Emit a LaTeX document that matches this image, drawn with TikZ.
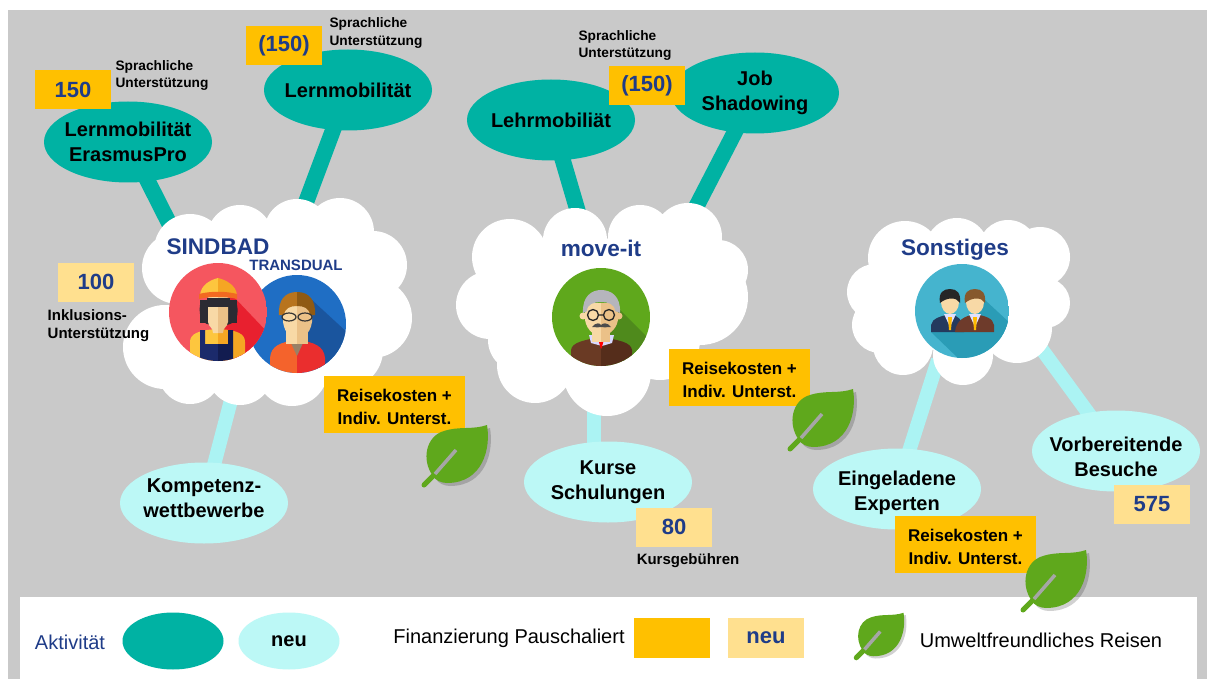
\documentclass[tikz,border=0pt]{standalone}
\usepackage{fontspec}
\setmainfont{Liberation Sans}
\usetikzlibrary{shapes.geometric}
\definecolor{bggray}{HTML}{C9C9C9}
\definecolor{tealc}{HTML}{00B2A3}
\definecolor{lightc}{HTML}{BCF8F6}
\definecolor{lineL}{HTML}{ABF3F3}
\definecolor{goldc}{HTML}{FFC000}
\definecolor{paleg}{HTML}{FFE08F}
\definecolor{navyt}{HTML}{1F3C88}
\definecolor{leafc}{HTML}{5FA81C}
\definecolor{skin}{HTML}{F8D9A6}
\definecolor{skind}{HTML}{EBC188}
\definecolor{wred}{HTML}{F5565F}
\definecolor{wredd}{HTML}{E8202F}
\definecolor{hatc}{HTML}{FDC63E}
\definecolor{hatd}{HTML}{F5A623}
\definecolor{brimc}{HTML}{F26A21}
\definecolor{darkh}{HTML}{2B2B33}
\definecolor{overall}{HTML}{1B2A6B}
\definecolor{overalld}{HTML}{121C50}
\definecolor{mblue}{HTML}{1F6EC4}
\definecolor{mblued}{HTML}{1A559E}
\definecolor{brownh}{HTML}{B8741E}
\definecolor{brownd}{HTML}{8F5A14}
\definecolor{vest}{HTML}{F4632C}
\definecolor{vestd}{HTML}{EA2E2E}
\definecolor{ogreen}{HTML}{5FA81C}
\definecolor{ogreend}{HTML}{4F8A1C}
\definecolor{ohair}{HTML}{B5B5BC}
\definecolor{obrown}{HTML}{6A3A24}
\definecolor{obrownd}{HTML}{552D1B}
\definecolor{sblue}{HTML}{45B4CE}
\definecolor{sblued}{HTML}{2A9CB6}
\definecolor{snavy}{HTML}{243A5E}
\definecolor{sbrown}{HTML}{6E3B2B}
\newcommand{\fs}[1]{\fontsize{#1}{#1}\selectfont}
\newcommand{\costtext}{\rule{0pt}{18pt}Reisekosten +\\[6pt]Indiv. Unterst.}
\pgfdeclarelayer{bg}\pgfdeclarelayer{conn}
\pgfsetlayers{bg,conn,main}
\tikzset{
  x=1pt,y=-1pt,
  act/.style={ellipse,fill=tealc,minimum width=168pt,minimum height=81pt,inner sep=-15pt,align=center,font=\bfseries\fs{20}},
  newact/.style={act,fill=lightc},
  conT/.style={draw=tealc,line width=16pt},
  conL/.style={draw=lineL,line width=14pt},
  gold/.style={fill=goldc,minimum width=76pt,minimum height=39pt,inner sep=0pt,font=\bfseries\fs{22},text=navyt},
  pale/.style={gold,fill=paleg},
  costbox/.style={fill=goldc,minimum width=141pt,minimum height=57pt,inner sep=0pt,align=center,font=\bfseries\fs{17}},
  small/.style={align=left,inner sep=0pt,font=\bfseries\fs{13.7}},
  small2/.style={small,font=\bfseries\fs{15}},
  title/.style={inner sep=0pt,text=navyt,font=\bfseries\fs{22.6}},
  legtext/.style={inner sep=0pt,font=\fs{20}},
  myleaf/.pic={
    \fill[black,opacity=.18] (15,-9) .. controls (3,-25) and (8,-49) .. (26,-54)
      .. controls (41,-59) and (55,-55) .. (69,-60) .. controls (73,-37) and (65,-2) .. (29,-2)
      .. controls (23,-2) and (17,-5) .. (15,-9) -- cycle;
    \fill[leafc] (12,-12) .. controls (0,-28) and (5,-52) .. (23,-57)
      .. controls (38,-62) and (52,-58) .. (66,-63) .. controls (70,-40) and (62,-5) .. (26,-5)
      .. controls (20,-5) and (14,-8) .. (12,-12) -- cycle;
    \draw[leafc,line width=5pt,line cap=round] (3,-3) -- (14,-14);
    \draw[gray!70,line width=3.5pt] (14,-14) -- (35,-38);
  }
}
\begin{document}
\begin{tikzpicture}
\useasboundingbox (0,0) rectangle (1207,679);
\begin{pgfonlayer}{bg}
  \fill[white] (0,0) rectangle (1207,679);
  \fill[bggray] (8,10) rectangle (1207,679);
  \fill[white] (20,597) rectangle (1197,679);
\end{pgfonlayer}

% clouds
\fill[white] (190,250) circle (36) (240,238) circle (33) (297,232) circle (33) (340,232) circle (34)
  (373,265) circle (34) (372,318) circle (40) (345,350) circle (38) (178,268) circle (36)
  (165,347) circle (42) (190,372) circle (32) (240,372) circle (33) (292,370) circle (36);
\fill[white] (190,250) -- (240,238) -- (297,232) -- (340,232) -- (373,265) -- (372,318) -- (345,350)
  -- (292,370) -- (240,372) -- (190,372) -- (165,347) -- (178,268) -- cycle;
\fill[white] (510,257) circle (38) (490,305) circle (34) (575,240) circle (32) (640,237) circle (32)
  (688,237) circle (34) (718,270) circle (30) (700,297) circle (48) (660,340) circle (40)
  (535,365) circle (38) (607,372) circle (44) (520,340) circle (32);
\fill[white] (510,257) -- (575,240) -- (640,237) -- (688,237) -- (718,270) -- (700,297) -- (660,340)
  -- (607,372) -- (535,365) -- (520,340) -- (490,305) -- cycle;
\fill[white] (905,258) circle (37) (957,250) circle (32) (1008,250) circle (30) (1040,257) circle (30)
  (1045,303) circle (25) (1017,328) circle (35) (963,355) circle (30) (903,345) circle (30)
  (875,292) circle (28) (880,325) circle (28);
\fill[white] (905,258) -- (957,250) -- (1008,250) -- (1040,257) -- (1045,303) -- (1017,328) -- (963,355)
  -- (903,345) -- (880,325) -- (875,292) -- cycle;
\coordinate (cloudA1) at (170,225);
\coordinate (cloudA2) at (305,205);
\coordinate (cloudA3) at (235,385);
\coordinate (cloudB1) at (578,212);
\coordinate (cloudB2) at (692,215);
\coordinate (cloudB3) at (594,400);
\coordinate (cloudC1) at (938,360);
\coordinate (cloudC2) at (1035,340);

% blue man icon
\begin{scope}
  \clip (297,324) circle (49);
  \fill[mblue] (248,275) rectangle (346,373);
  \fill[mblued] (312,300) -- (350,335) -- (350,380) -- (320,380) -- (300,330) -- cycle;
  \fill[vest] (270,372) -- (270,358) .. controls (271,346) and (280,342) .. (297,340) -- (297,373) -- cycle;
  \fill[vestd] (325,372) -- (325,358) .. controls (324,346) and (314,342) .. (297,340) -- (297,373) -- cycle;
  \fill[gray!60!brown] (291,343) -- (303,343) -- (297,356) -- cycle;
  \fill[skin] (286,330) rectangle (297,344);
  \fill[skind] (297,330) rectangle (308,344);
  \fill[skin] (283,305) rectangle (297,322) (283,322) .. controls (285,335) and (292,338) .. (297,338) -- (297,322) -- cycle;
  \fill[skind] (297,305) rectangle (312,322) (312,322) .. controls (310,335) and (302,338) .. (297,338) -- (297,322) -- cycle;
  \fill[brownh] (297,292) .. controls (285,292) and (278,300) .. (279,315) -- (284,315) .. controls (285,308) and (290,306) .. (297,306) -- cycle;
  \fill[brownd] (297,292) .. controls (309,292) and (316,300) .. (315,315) -- (310,315) .. controls (309,308) and (304,306) .. (297,306) -- cycle;
  \draw[black!80,line width=1.2pt] (289,317) ellipse (7 and 4) (305,317) ellipse (7 and 4);
\end{scope}

% worker icon
\begin{scope}
  \clip (218,312) circle (49);
  \fill[wred] (169,263) rectangle (267,361);
  \fill[wredd] (232,295) -- (270,335) -- (270,365) -- (230,365) -- (215,325) -- cycle;
  \fill[darkh] (200,300) rectangle (237,323);
  \fill[darkh] (200,305) .. controls (198,320) and (205,325) .. (212,325) -- (225,325) .. controls (232,325) and (240,320) .. (237,305) -- cycle;
  \fill[hatc] (190,360) -- (190,342) .. controls (190,334) and (198,330) .. (218,329) -- (218,362) -- cycle;
  \fill[hatd] (245,360) -- (245,342) .. controls (245,334) and (238,330) .. (218,329) -- (218,362) -- cycle;
  \fill[skin] (208,297) rectangle (218,322) (208,322) .. controls (209,328) and (213,327) .. (213,333) -- (218,333) -- (218,322) -- cycle;
  \fill[skind] (218,297) rectangle (228,322) (228,322) .. controls (227,328) and (223,327) .. (223,333) -- (218,333) -- (218,322) -- cycle;
  \fill[darkh] (207,298) rectangle (230,307);
  \fill[overall] (200,362) -- (200,330) -- (205,330) -- (205,344) -- (218,344) -- (218,362) -- cycle;
  \fill[overalld] (233,362) -- (233,330) -- (228,330) -- (228,344) -- (218,344) -- (218,362) -- cycle;
  \fill[hatc] (200,295) .. controls (201,285) and (210,280) .. (218,278) -- (218,295) -- cycle;
  \fill[hatd] (237,295) .. controls (236,285) and (226,280) .. (218,278) -- (218,295) -- cycle;
  \fill[brimc] (199,294) .. controls (210,291) and (226,291) .. (237,294) -- (237,299) .. controls (226,296) and (210,296) .. (199,299) -- cycle;
\end{scope}

% old man icon
\begin{scope}
  \clip (601,317) circle (49);
  \fill[ogreen] (552,268) rectangle (650,366);
  \fill[ogreend] (615,305) -- (655,345) -- (655,370) -- (625,370) -- (605,335) -- cycle;
  \fill[obrown] (571,367) -- (571,350) .. controls (572,342) and (585,340) .. (601,337) -- (601,367) -- cycle;
  \fill[obrownd] (632,367) -- (632,350) .. controls (631,342) and (618,340) .. (601,337) -- (601,367) -- cycle;
  \fill[blue!15!white] (589,335) -- (614,335) -- (612,343) -- (602,346) -- (591,343) -- cycle;
  \fill[red] (598,339) -- (604,339) -- (602,347) -- (601,349) -- cycle;
  \fill[skin] (592,328) rectangle (601,342);
  \fill[skind] (601,328) rectangle (610,342);
  \fill[skin] (585,303) rectangle (601,320) (585,320) .. controls (587,331) and (595,336) .. (601,336) -- (601,320) -- cycle;
  \fill[skind] (601,303) rectangle (618,320) (618,320) .. controls (616,331) and (607,336) .. (601,336) -- (601,320) -- cycle;
  \fill[skin] (583,316) circle (3.5);
  \fill[skind] (619,316) circle (3.5);
  \fill[ohair] (583,313) .. controls (582,296) and (592,290) .. (601,290) .. controls (611,290) and (621,296) .. (620,313) -- (615,311) .. controls (615,304) and (608,302) .. (601,302) .. controls (594,302) and (587,304) .. (587,311) -- cycle;
  \draw[black!85,line width=1.3pt] (593,315) circle (5.5) (609,315) circle (5.5) (598.5,315) -- (603.5,315);
  \fill[gray!60!black] (592,327) .. controls (596,322) and (600,323) .. (601,325) .. controls (603,323) and (607,322) .. (611,327) .. controls (606,327) and (603,328) .. (601,327) .. controls (599,328) and (596,327) .. (592,327) -- cycle;
\end{scope}

% two men icon
\begin{scope}
  \clip (962,311) circle (47);
  \fill[sblue] (915,264) rectangle (1009,358);
  \fill[sblued] (931,332) -- (994,332) -- (1010,320) -- (1010,360) -- (960,360) -- cycle;
  \fill[sblued] (985,300) -- (1012,325) -- (1000,340) -- (975,320) -- cycle;
  \fill[snavy] (931,332) -- (931,325) .. controls (932,318) and (942,316) .. (950,314) .. controls (958,316) and (962,318) .. (964,332) -- cycle;
  \fill[sbrown] (955,332) .. controls (956,320) and (965,316) .. (975,314) .. controls (985,316) and (993,318) .. (994,325) -- (994,332) -- cycle;
  \fill[blue!12!white] (944,314) -- (956,314) -- (950,327) -- cycle (969,314) -- (981,314) -- (975,327) -- cycle;
  \fill[goldc!90!orange] (948,317) -- (952,317) -- (951,330) -- (949,330) -- cycle (973,317) -- (977,317) -- (976,330) -- (974,330) -- cycle;
  \fill[skin] (950,302) ellipse (9 and 12) (975,302) ellipse (9 and 12);
  \fill[black!85] (940,303) .. controls (938,292) and (944,289) .. (950,289) .. controls (957,289) and (961,293) .. (960,303) .. controls (957,297) and (947,297) .. (940,303) -- cycle;
  \fill[brown!70!black] (965,303) .. controls (963,292) and (969,289) .. (975,289) .. controls (982,289) and (986,293) .. (985,303) .. controls (982,297) and (972,297) .. (965,303) -- cycle;
\end{scope}

% titles
\node[title] (tSind) at (218,247) {SINDBAD};
\node[title,font=\bfseries\fs{15}] (tTrans) at (296,265) {TRANSDUAL};
\node[title] (tMove) at (601,248) {move-it};
\node[title] (tSons) at (955,250) {Sonstiges};

% activities
\node[act] (erasmus) at (128,142) {Lernmobilität\\[5pt]ErasmusPro};
\node[act] (lern) at (348,90) {Lernmobilität};
\node[act] (lehr) at (551,120) {Lehrmobiliät};
\node[act] (job) at (755,93) {Job\\[5pt]Shadowing};
\node[newact] (komp) at (204,503) {Kompetenz-\\[5pt]wettbewerbe\rule[-10pt]{0pt}{10pt}};
\node[newact] (kurse) at (608,482) {Kurse\\[5pt]Schulungen};
\node[newact] (eing) at (897,489) {\rule{0pt}{22.5pt}Eingeladene\\[5pt]Experten};
\node[newact] (vorb) at (1116,451) {\rule{0pt}{26.5pt}Vorbereitende\\[5pt]Besuche};

\begin{pgfonlayer}{conn}
  \draw[conT] (erasmus.center) -- (cloudA1);
  \draw[conT] (lern.center) -- (cloudA2);
  \draw[conL] (komp.center) -- (cloudA3);
  \draw[conT] (lehr.center) -- (cloudB1);
  \draw[conT] (job.center) -- (cloudB2);
  \draw[conL] (cloudB3) -- (cloudB3 |- kurse.center);
  \draw[conL] (eing.center) -- (cloudC1);
  \draw[conL] (vorb.center) -- (cloudC2);
\end{pgfonlayer}

% funding boxes
\node[gold] (f1) at (73,90) {150};
\node[gold] (f2) at (284,46) {(150)};
\node[gold] (f3) at (647,86) {(150)};
\node[pale] (f4) at (96,282) {100};
\node[pale] (f5) at (674,527) {80};
\node[pale] (f6) at (1152,504) {575};
\node[small] (s1) at (162,75.5) {Sprachliche\\[4pt]Unterstützung};
\node[small] (s2) at (376,33) {Sprachliche\\[4pt]Unterstützung};
\node[small] (s3) at (625,45.5) {Sprachliche\\[4pt]Unterstützung};
\node[small2] (s4) at (98.5,326) {Inklusions-\\[3pt]Unterstützung};
\node[small2] (s5) at (688,561) {Kursgebühren};

% travel boxes and leaves
\node[costbox] (r1) at (394.5,404.5) {\costtext};
\node[costbox] (r2) at (739.5,377.5) {\costtext};
\node[costbox] (r3) at (965.5,544.5) {\costtext};
\pic at (421,488) {myleaf};
\pic at (787,452) {myleaf};
\pic at (1020,613) {myleaf};

% legend
\node[legtext,text=navyt] (lAkt) at (70,642) {Aktivität};
\node[ellipse,fill=tealc,minimum width=101pt,minimum height=57pt,inner sep=0pt] (lE1) at (173,641) {};
\node[ellipse,fill=lightc,minimum width=101pt,minimum height=57pt,inner sep=0pt,font=\bfseries\fs{20}] (lE2) at (289,641) {neu};
\node[legtext] (lFin) at (509,638) {Finanzierung Pauschaliert};
\node[gold,minimum height=40pt] (lG) at (672,638) {};
\node[pale,minimum height=40pt] (lP) at (766,638) {neu};
\pic[scale=.75] at (854,660) {myleaf};
\node[legtext] (lUm) at (1041,640) {Umweltfreundliches Reisen};
\end{tikzpicture}
\end{document}
